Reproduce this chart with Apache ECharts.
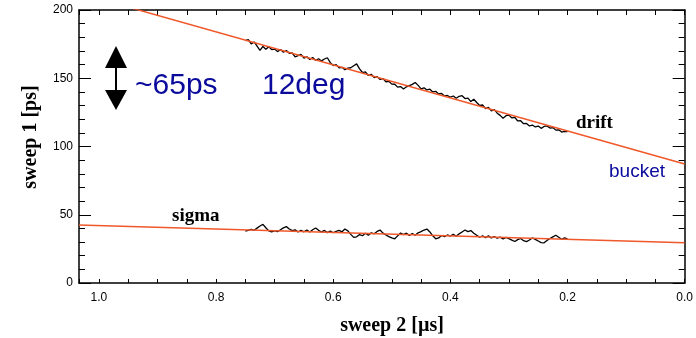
<!DOCTYPE html>
<html>
<head>
<meta charset="utf-8">
<script src="https://cdn.jsdelivr.net/npm/echarts@6/dist/echarts.min.js"></script>
<style>
html,body{margin:0;padding:0;background:#fff;}
#chart{width:696px;height:338px;}
</style>
</head>
<body>
<div id="chart"></div>
<script>
// sweep 2 [µs] positions of the measured points
var sweep2 = [
0.750,0.745,0.740,0.735,0.730,0.725,0.720,0.715,0.710,0.705,
0.700,0.695,0.690,0.685,0.680,0.675,0.670,0.665,0.660,0.655,
0.650,0.645,0.640,0.635,0.630,0.625,0.620,0.615,0.610,0.605,
0.600,0.595,0.590,0.585,0.580,0.575,0.570,0.565,0.560,0.555,
0.550,0.545,0.540,0.535,0.530,0.525,0.520,0.515,0.510,0.505,
0.500,0.495,0.490,0.485,0.480,0.475,0.470,0.465,0.460,0.455,
0.450,0.445,0.440,0.435,0.430,0.425,0.420,0.415,0.410,0.405,
0.400,0.395,0.390,0.385,0.380,0.375,0.370,0.365,0.360,0.355,
0.350,0.345,0.340,0.335,0.330,0.325,0.320,0.315,0.310,0.305,
0.300,0.295,0.290,0.285,0.280,0.275,0.270,0.265,0.260,0.255,
0.250,0.245,0.240,0.235,0.230,0.225,0.220,0.215,0.210,0.205,
0.200];
// sweep 1 [ps]: drift
var drift = [
177.5,178.3,175.2,176.6,173.5,170.4,173.3,171.2,173.1,171.0,
171.4,169.5,171.0,169.1,170.3,168.3,168.5,165.7,166.6,167.5,
164.7,165.7,163.8,165.2,163.1,164.3,162.7,164.1,165.0,161.4,
159.3,160.0,157.6,158.0,156.2,157.4,157.7,159.1,160.5,156.9,
154.2,154.6,152.0,152.9,150.5,151.2,149.1,149.8,147.4,147.8,
145.7,145.6,143.5,143.9,142.1,143.7,144.6,145.5,146.9,144.8,
142.2,143.0,141.4,142.0,140.0,140.4,138.5,138.9,137.0,137.4,
136.1,137.0,135.4,136.8,137.2,135.1,135.5,132.9,134.6,132.2,
130.1,130.4,127.8,128.7,126.1,127.0,124.4,122.8,120.7,122.6,
123.0,120.9,121.3,118.7,118.9,116.7,116.9,115.1,115.7,114.3,
115.0,113.3,114.7,115.1,113.5,113.9,112.0,112.2,110.6,111.0,
110.9];
// sweep 1 [ps]: sigma
var sigma = [
38.0,38.5,39.3,38.6,40.2,41.8,43.0,40.5,38.2,37.5,
38.4,37.6,39.0,40.4,41.3,39.6,38.4,38.9,37.4,38.6,
37.5,38.8,37.3,39.0,40.3,38.6,37.4,38.5,36.9,38.0,
36.8,37.9,38.6,37.5,39.6,38.2,35.6,33.4,33.8,35.5,
34.6,36.4,35.0,36.8,36.0,37.8,38.8,36.5,35.2,34.0,
33.0,32.4,34.5,36.6,35.4,36.5,34.9,36.3,35.0,36.8,
37.6,38.8,39.5,37.4,34.6,32.4,33.0,34.8,34.0,35.2,
34.4,35.6,34.2,36.0,37.4,38.8,37.6,38.4,36.5,35.0,
33.5,34.6,33.2,34.5,33.0,34.0,32.8,33.6,32.2,33.4,
32.5,31.4,30.4,31.8,32.6,31.0,30.3,31.5,33.0,32.0,
30.8,29.6,29.4,31.2,32.6,33.8,35.0,33.5,32.0,33.0,
32.4];
// straight-line fits (end points)
var fitX = [0, 1.034];
var driftFit = [87.2, 212.3];
var sigmaFit = [29.5, 42.5];
// axis ticks
var xTicks = ['1.0','0.8','0.6','0.4','0.2','0.0'];
var yTicks = ['0','50','100','150','200'];

function pairs(xs, ys){ return xs.map(function(x,i){ return [x, ys[i]]; }); }

var SANS = '"Liberation Sans", Arial, sans-serif';
var SERIF = '"Liberation Serif", "Times New Roman", serif';
var BLUE = '#0a0a9c';
var RED = '#f0582a';

var chart = echarts.init(document.getElementById('chart'), null, {renderer:'canvas'});

function xAxisCfg(pos, labels, tickLen){
  return {
    type:'value', position:pos, inverse:true, min:0, max:1.034, interval:0.2,
    axisLine:{show:true, onZero:false, lineStyle:{color:'#000', width:1.5}},
    axisTick:{show:true, inside:true, length:tickLen, lineStyle:{color:'#000', width:1}},
    minorTick:{show:true, splitNumber:4, length:tickLen, lineStyle:{color:'#000', width:1}},
    splitLine:{show:false}, minorSplitLine:{show:false},
    axisLabel:{show:labels, showMaxLabel:false, margin:9, color:'#000', fontSize:12, fontFamily:SANS,
      formatter:function(v){ return v.toFixed(1); }}
  };
}
function yAxisCfg(pos, labels){
  return {
    type:'value', position:pos, min:0, max:200, interval:50,
    axisLine:{show:true, onZero:false, lineStyle:{color:'#000', width:1.5}},
    axisTick:{show:true, inside:true, length:12, lineStyle:{color:'#000', width:1}},
    minorTick:{show:true, splitNumber:5, length:6, lineStyle:{color:'#000', width:1}},
    splitLine:{show:false}, minorSplitLine:{show:false},
    axisLabel:{show:labels, margin:6, color:'#000', fontSize:12, fontFamily:SANS}
  };
}

var option = {
  animation:false,
  backgroundColor:'#fff',
  grid:{left:79, right:7, top:10, bottom:55, containLabel:false},
  xAxis:[xAxisCfg('bottom', true, 4), xAxisCfg('top', false, 5)],
  yAxis:[yAxisCfg('left', true), yAxisCfg('right', false)],
  series:[
    {type:'line', name:'drift fit', data:pairs(fitX, driftFit), showSymbol:false, clip:true,
      lineStyle:{color:RED, width:1.5}, z:3},
    {type:'line', name:'sigma fit', data:pairs(fitX, sigmaFit), showSymbol:false, clip:true,
      lineStyle:{color:RED, width:1.5}, z:3},
    {type:'line', name:'drift', data:pairs(sweep2, drift), showSymbol:false,
      lineStyle:{color:'#000', width:1.3}, z:2},
    {type:'line', name:'sigma', data:pairs(sweep2, sigma), showSymbol:false,
      lineStyle:{color:'#000', width:1.3}, z:2}
  ],
  graphic:[
    // double arrow
    {type:'polygon', shape:{points:[[116,46],[105,68],[127,68]]}, style:{fill:'#000'}},
    {type:'rect', shape:{x:115,y:67,width:2,height:24}, style:{fill:'#000'}},
    {type:'polygon', shape:{points:[[105,90],[127,90],[116,110]]}, style:{fill:'#000'}},
    {type:'text', x:135, y:86, style:{text:'~65ps', fill:BLUE, font:'30px '+SANS, verticalAlign:'middle'}},
    {type:'text', x:262, y:86, style:{text:'12deg', fill:BLUE, font:'30px '+SANS, verticalAlign:'middle'}},
    {type:'text', x:609, y:172, style:{text:'bucket', fill:BLUE, font:'19px '+SANS, verticalAlign:'middle'}},
    {type:'text', x:576, y:123, style:{text:'drift', fill:'#000', font:'bold 19px '+SERIF, verticalAlign:'middle'}},
    {type:'text', x:172, y:216, style:{text:'sigma', fill:'#000', font:'bold 19px '+SERIF, verticalAlign:'middle'}},
    {type:'text', x:392, y:326, style:{text:'sweep 2 [µs]', fill:'#000', font:'bold 20px '+SERIF, align:'center', verticalAlign:'middle'}},
    {type:'text', x:31, y:137, rotation:Math.PI/2, style:{text:'sweep 1 [ps]', fill:'#000', font:'bold 20px '+SERIF, align:'center', verticalAlign:'middle'}}
  ]
};
chart.setOption(option);
</script>
</body>
</html>
